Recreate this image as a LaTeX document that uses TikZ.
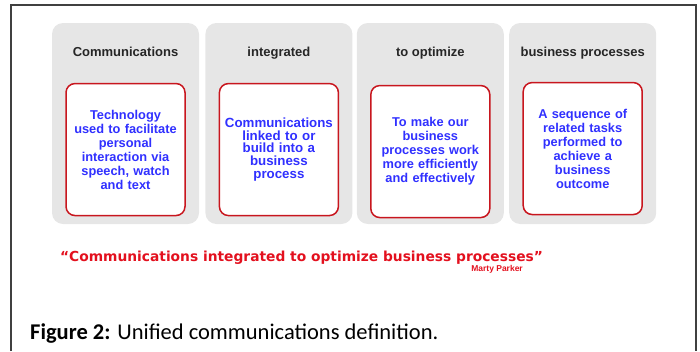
\documentclass[tikz,border=0pt]{standalone}
\usepackage{fontspec}
\setmainfont{Carlito}
\setsansfont{Liberation Sans}
\newfontfamily\quotefont{DejaVu Sans}
\usetikzlibrary{positioning}

\definecolor{panelgrey}{HTML}{E6E6E6}
\definecolor{framered}{HTML}{C8161E}
\definecolor{defblue}{HTML}{3030FF}
\definecolor{quotered}{HTML}{E3101E}

\tikzset{
  panel/.style={fill=panelgrey, rounded corners=11pt, minimum width=147pt,
    minimum height=201pt, inner sep=0pt},
  panelhead/.style={font=\sffamily\bfseries\fontsize{13}{14}\selectfont,
    text=black!85, inner sep=0pt},
  defbox/.style={draw=framered, line width=1.5pt, fill=white, rounded corners=9pt,
    minimum width=119pt, minimum height=132pt, text width=117pt, align=center,
    inner sep=0pt, text=defblue, font=\sffamily\bfseries\fontsize{12.8}{14}\selectfont},
}

\begin{document}
\begin{tikzpicture}[x=1pt, y=-1pt]

  \useasboundingbox (0,0) rectangle (700,351);

  % open frame around the figure
  \draw[line width=1.3pt, black!75] (11,351) -- (11,5) -- (696,5) -- (696,351);

  % ==================== PANELS ====================

  \node[panel] (comm) at (125.5,123.5) {};
  \node[panel, right=6pt of comm] (integ) {};
  \node[panel, right=4pt of integ] (optim) {};
  \node[panel, right=5pt of optim] (bproc) {};

  % panel headings
  \node[panelhead, below=34pt of comm.north, anchor=base] (commhead) {Communications};
  \node[panelhead, below=34pt of integ.north, anchor=base] (integhead) {integrated};
  \node[panelhead, below=34pt of optim.north, anchor=base] (optimhead) {to optimize};
  \node[panelhead, below=34pt of bproc.north, anchor=base] (bprochead) {business processes};

  % definitions
  \node[defbox, below=60pt of comm.north] (commdef) {
    Technology\\ used to facilitate\\ personal\\ interaction via\\ speech, watch\\ and text};
  \node[defbox, below=60pt of integ.north,
    font=\sffamily\bfseries\fontsize{13.3}{12.7}\selectfont] (integdef) {
    Communications\\ linked to or\\ build into a\\ business\\ process};
  \node[defbox, below=62pt of optim.north] (optimdef) {
    To make our\\ business\\ processes work\\ more efficiently\\ and effectively};
  \node[defbox, below=59pt of bproc.north] (bprocdef) {
    A sequence of\\ related tasks\\ performed to\\ achieve a\\ business\\ outcome};

  % ==================== QUOTE ====================

  \node[anchor=base, inner sep=0pt, text=quotered,
    font=\quotefont\bfseries\fontsize{13.8}{15}\selectfont] (quote) at (301.5,261)
    {“Communications integrated to optimize business processes”};
  \node[anchor=base east, inner sep=0pt, text=quotered,
    font=\sffamily\bfseries\fontsize{8.5}{9}\selectfont] (author) at (523,271.5)
    {Marty Parker};

  % caption
  \node[anchor=base west, inner sep=0pt, font=\fontsize{22.5}{26}\selectfont] (caption)
    at (30,339) {\textbf{Figure 2:} Unified communications definition.};

\end{tikzpicture}
\end{document}
